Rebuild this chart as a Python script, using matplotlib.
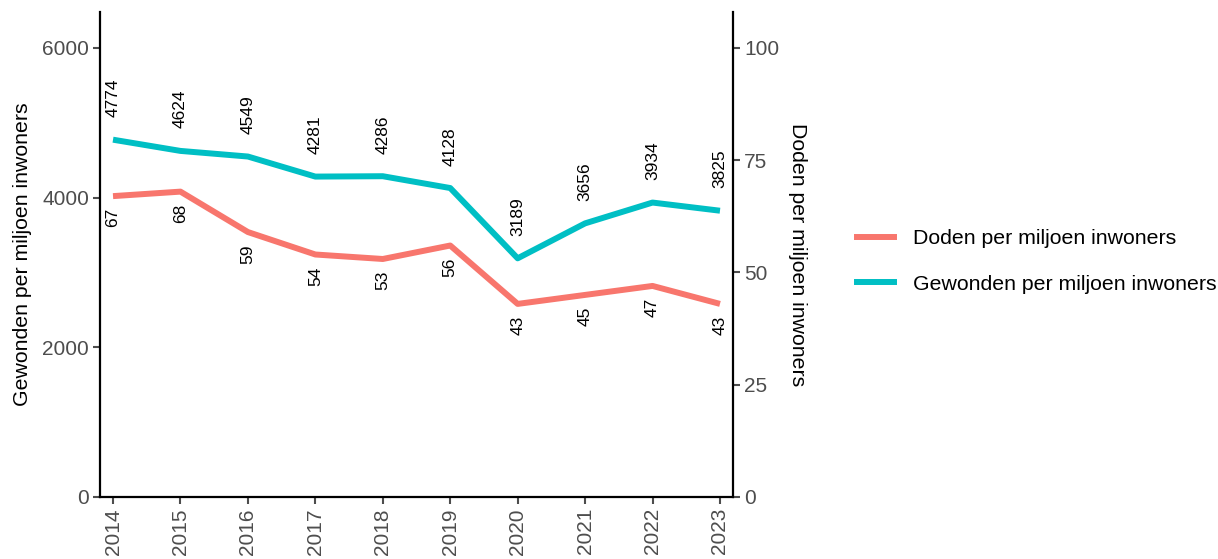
import matplotlib
matplotlib.use('Agg')
import matplotlib.pyplot as plt
from matplotlib.lines import Line2D

plt.rcParams['font.family'] = ['Liberation Sans', 'DejaVu Sans']

# data
jaren = [2014, 2015, 2016, 2017, 2018, 2019, 2020, 2021, 2022, 2023]
gewonden = [4774, 4624, 4549, 4281, 4286, 4128, 3189, 3656, 3934, 3825]
doden = [67, 68, 59, 54, 53, 56, 43, 45, 47, 43]
schaal = 60  # doden * 60 -> left axis units

rood = '#F8766D'
teal = '#00BFC4'
grijs = '#4D4D4D'

fig = plt.figure(figsize=(12.18, 5.59), dpi=100)
ax = fig.add_axes([100/1218, 1 - 497/559, 633/1218, 485/559])
ax2 = ax.twinx()

ax.plot(jaren, gewonden, color=teal, lw=4.3, solid_capstyle='butt', zorder=3)
ax.plot(jaren, [d * schaal for d in doden], color=rood, lw=4.3, solid_capstyle='butt', zorder=3)

for j, g in zip(jaren, gewonden):
    ax.text(j, g + 300, str(g), rotation=90, ha='center', va='bottom', fontsize=12.5, color='black')
for j, d in zip(jaren, doden):
    ax.text(j, d * schaal - 160, str(d), rotation=90, ha='center', va='top', fontsize=12.5, color='black')

ax.set_xlim(2013.807, 2023.193)
ax.set_ylim(0, 6480)
ax2.set_ylim(0, 6480 / schaal)
ax.set_xticks(jaren)
ax.set_xticklabels([str(j) for j in jaren], rotation=90)
ax.set_yticks([0, 2000, 4000, 6000])
ax2.set_yticks([0, 25, 50, 75, 100])

for a in (ax, ax2):
    for s in a.spines.values():
        s.set_visible(False)
    a.tick_params(colors=grijs, labelsize=15, length=5, width=1.5, pad=3)
ax.spines['left'].set_visible(True)
ax.spines['bottom'].set_visible(True)
ax2.spines['right'].set_visible(True)
for s in (ax.spines['left'], ax.spines['bottom'], ax2.spines['right']):
    s.set_linewidth(1.6)
    s.set_color('black')

ax.set_ylabel('Gewonden per miljoen inwoners', fontsize=15.3, color='black', labelpad=7)
ax2.set_ylabel('Doden per miljoen inwoners', fontsize=15.3, color='black', rotation=-90,
               va='bottom', labelpad=6)

handles = [Line2D([], [], color=rood, lw=4.3), Line2D([], [], color=teal, lw=4.3)]
fig.legend(handles, ['Doden per miljoen inwoners', 'Gewonden per miljoen inwoners'],
           loc='center left', bbox_to_anchor=(857/1218, 1 - 261.5/559), frameon=False,
           fontsize=15.3, handlelength=1.75, handletextpad=0.9, labelspacing=1.25,
           borderpad=0, borderaxespad=0)

fig.savefig('out.png', dpi=100)
